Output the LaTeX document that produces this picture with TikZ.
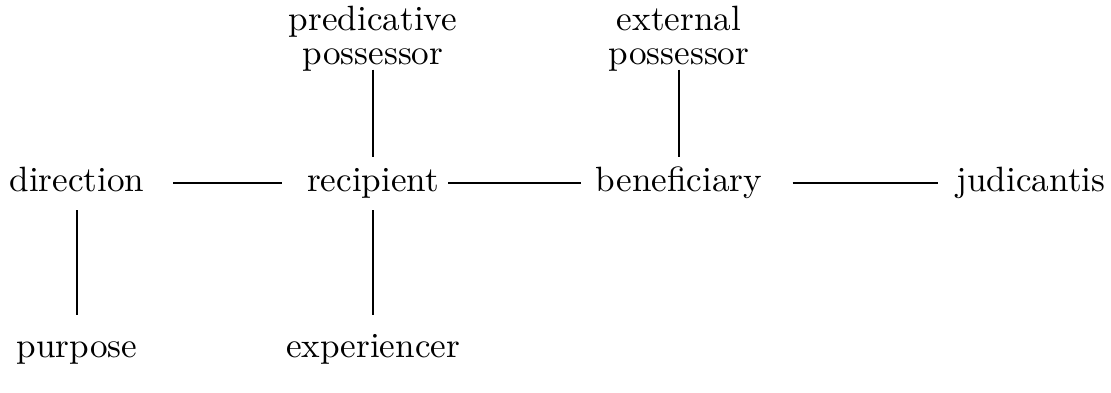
\documentclass[tikz,border=0pt]{standalone}
\usetikzlibrary{positioning}
\tikzset{
  role/.style={inner sep=1pt, font=\fontsize{10}{9.7}\selectfont, align=center},
  word/.style={role, text height=6.94pt, text depth=1.94pt},
  link/.style={line width=0.6pt},
}
\begin{document}
\begin{tikzpicture}
    \useasboundingbox (0,0) rectangle (11.11,3.93);
    % middle row
    \node[word, anchor=base] (direction) at (0.77,2.01) {direction};
    \node[word, anchor=base] (recipient) at (3.73,2.01) {recipient};
    \node[word, anchor=base] (beneficiary) at (6.79,2.01) {beneficiary};
    \node[word, anchor=base] (judicantis) at (10.31,2.01) {judicantis};
    % top row
    \node[role] (predposs) at (3.73,3.54) {predicative\\possessor};
    \node[role] (extposs) at (6.79,3.54) {external\\possessor};
    % bottom row
    \node[word, anchor=base] (purpose) at (0.77,0.35) {purpose};
    \node[word, anchor=base] (experiencer) at (3.73,0.35) {experiencer};
    % connections
    \draw[link, shorten <=7pt, shorten >=6pt] (direction) -- (recipient);
    \draw[link, shorten <=1.5pt, shorten >=3pt] (recipient) -- (beneficiary);
    \draw[link, shorten <=7.5pt, shorten >=4pt] (beneficiary) -- (judicantis);
    \draw[link, shorten <=-1.8pt, shorten >=1.7pt] (predposs) -- (recipient);
    \draw[link, shorten <=-1.8pt, shorten >=1.7pt] (extposs) -- (beneficiary);
    \draw[link, shorten <=2pt, shorten >=4pt] (recipient) -- (experiencer);
    \draw[link, shorten <=2pt, shorten >=4pt] (direction) -- (purpose);
\end{tikzpicture}
\end{document}
